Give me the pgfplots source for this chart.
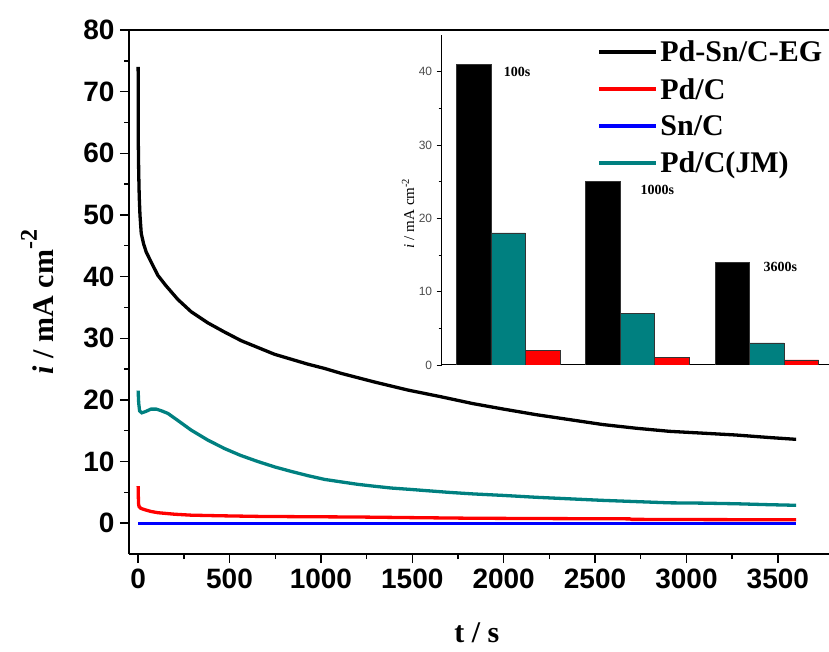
\documentclass[border=0pt]{standalone}
\usepackage{pgfplots}
\pgfplotsset{compat=1.18}
\usepackage{pgfplotstable}
\usepackage{fontspec}
\setmainfont{Liberation Serif}
\newfontfamily\arial{Liberation Sans}
\definecolor{jmteal}{RGB}{0,128,128}

\pgfplotstableread{
t i
0 74
0.5 68
1 61.5
3 57
6 53
10 50
17 47
30 45.3
44 44
72 42.3
108 40.2
150 38.6
217 36.3
290 34.3
381 32.5
473 31.0
564 29.6
655 28.5
746 27.4
837 26.6
928 25.8
1020 25.1
1111 24.3
1293 22.9
1475 21.6
1658 20.5
1831 19.4
2000 18.5
2178 17.6
2360 16.8
2542 16.0
2725 15.4
2907 14.9
3090 14.6
3272 14.3
3450 13.9
3600 13.6
}\pdsnc

\pgfplotstableread{
t i
0 6.0
1 4.5
2 3.2
5 2.7
15 2.4
35 2.2
70 1.9
108 1.7
200 1.45
290 1.3
450 1.2
655 1.1
900 1.05
1202 1.0
1500 0.9
1831 0.8
2200 0.75
2690 0.7
2700 0.62
3100 0.58
3600 0.55
}\pdc

\pgfplotstableread{
t i
0 0
900 0
1800 0
2700 0
3600 0
}\snc

\pgfplotstableread{
t i
0 21.5
3 19.5
8 18.2
20 17.9
40 18.1
70 18.5
100 18.5
130 18.2
163 17.8
220 16.6
290 15.1
380 13.5
473 12.1
560 11.0
655 10.0
750 9.1
837 8.4
930 7.7
1020 7.1
1110 6.7
1202 6.3
1290 6.0
1385 5.7
1480 5.5
1567 5.3
1700 5.0
1831 4.75
2000 4.5
2178 4.2
2360 3.95
2542 3.7
2725 3.5
2907 3.3
3090 3.25
3272 3.15
3450 3.0
3600 2.9
}\pdcjm

\pgfplotstableread{
g black teal red
0 41 18 2
1 25 7 1
2 14 3 0.7
}\bars

\begin{document}
\begin{tikzpicture}
\path[use as bounding box] (0pt,0pt) rectangle (829pt,651pt);
\begin{axis}[
  at={(129pt,97pt)}, anchor=south west,
  width=700pt, height=524pt, scale only axis,
  xmin=-50, xmax=3780, ymin=-5, ymax=80,
  axis x line=box, axis y line=left,
  axis line style={-, line width=1.8pt},
  xtick pos=left, ytick pos=left,
  xtick={0,500,...,3500}, ytick={0,10,...,80},
  minor x tick num=1, minor y tick num=1,
  tick align=outside,
  major tick length=9pt, minor tick length=5pt,
  every tick/.style={black, line width=1.4pt},
  /pgf/number format/assume math mode=true,
  /pgf/number format/1000 sep={},
  tick label style={font=\arial\bfseries\fontsize{28}{28}\selectfont},
  xticklabel style={yshift=-2pt},
  yticklabel style={xshift=-2pt},
  xlabel={\textbf{t / s}},
  ylabel={\textbf{\textit{i} / mA cm\raisebox{0.55em}{\fontsize{24}{24}\selectfont -2}}},
  every axis x label/.style={at={(rel axis cs:0.497,-0.151)}, anchor=center, font=\fontsize{30}{30}\selectfont},
  every axis y label/.style={at={(rel axis cs:-0.131,0.481)}, rotate=90, anchor=center, font=\fontsize{30}{30}\selectfont},
  legend style={at={(rel axis cs:0.666,0.987)}, anchor=north west, draw=none, fill=none,
    font=\bfseries\fontsize{30}{38}\selectfont, row sep=11pt, inner sep=2pt},
  legend cell align=left,
  legend image code/.code={\draw[#1, line width=4pt] (0pt,0pt) -- (57pt,0pt);},
]
\addplot[black, line width=3.3pt] table[x=t,y=i] {\pdsnc};
\addlegendentry{Pd-Sn/C-EG}
\addplot[red, line width=3.3pt] table[x=t,y=i] {\pdc};
\addlegendentry{Pd/C}
\addplot[blue, line width=3.3pt] table[x=t,y=i] {\snc};
\addlegendentry{Sn/C}
\addplot[jmteal, line width=3.3pt] table[x=t,y=i] {\pdcjm};
\addlegendentry{Pd/C(JM)}
\end{axis}

\begin{axis}[
  at={(441.7pt,286pt)}, anchor=south west,
  width=387.3pt, height=330pt, scale only axis,
  xmin=-0.513, xmax=2.48, ymin=0, ymax=45,
  axis x line=bottom, axis y line=left,
  axis line style={-, line width=1pt},
  xtick=\empty, ytick={0,10,...,40},
  minor y tick num=1, tick align=outside,
  major tick length=5pt, minor tick length=3pt,
  every tick/.style={black, line width=0.8pt},
  /pgf/number format/assume math mode=true,
  yticklabel style={font=\arial\fontsize{12}{12}\selectfont, text=black!70, xshift=-1pt},
  ylabel={\textit{i} / mA cm\textsuperscript{-2}},
  every axis y label/.style={at={(rel axis cs:-0.087,0.46)}, rotate=90, anchor=center, font=\fontsize{15}{15}\selectfont},
  ybar=0pt, bar width=34.5pt,
]
\addplot[fill=black, draw=black!80, line width=0.6pt] table[x=g,y=black] {\bars};
\addplot[fill=jmteal, draw=black!80, line width=0.6pt] table[x=g,y=teal] {\bars};
\addplot[fill=red, draw=black!80, line width=0.6pt] table[x=g,y=red] {\bars};
\node[font=\bfseries\fontsize{14}{14}\selectfont] at (axis cs:0.07,40) {100s};
\node[font=\bfseries\fontsize{14}{14}\selectfont] at (axis cs:1.153,23.9) {1000s};
\node[font=\bfseries\fontsize{14}{14}\selectfont] at (axis cs:2.104,13.4) {3600s};
\end{axis}
\end{tikzpicture}
\end{document}
